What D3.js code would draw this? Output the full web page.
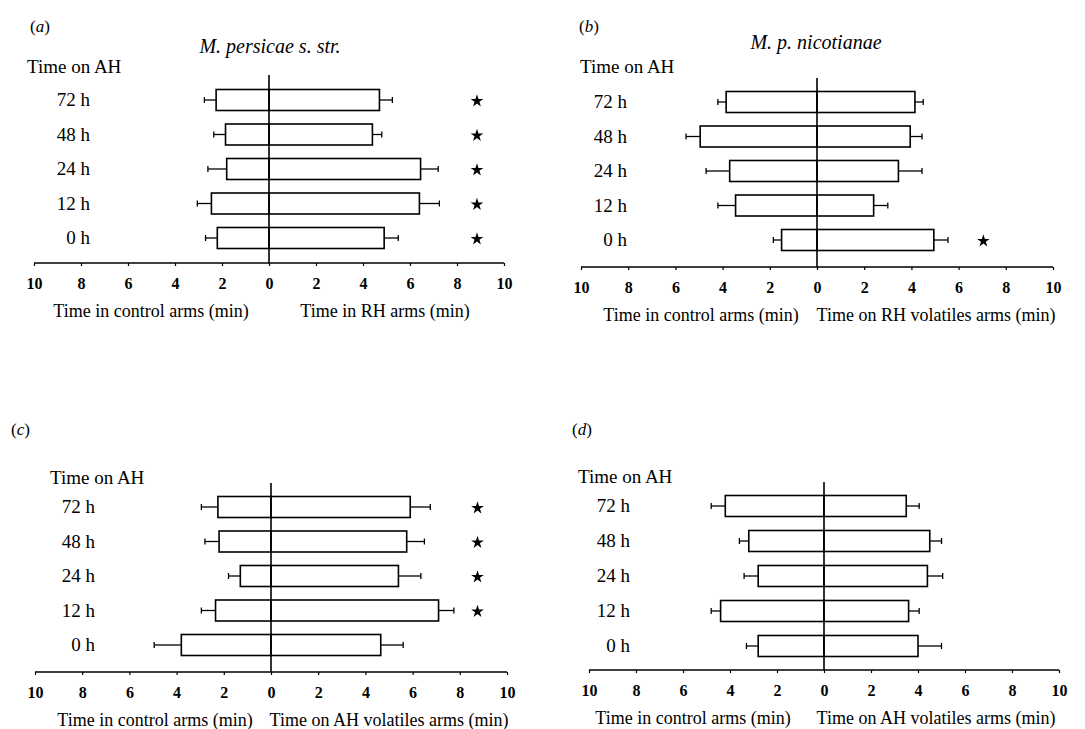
<!DOCTYPE html>
<html>
<head>
<meta charset="utf-8">
<script src="https://cdn.jsdelivr.net/npm/d3@7"></script>
<style>
  body { margin: 0; background: #fff; }
</style>
</head>
<body>
<div id="chart"></div>
<script>
// Define data
var timeLabels = ["72 h", "48 h", "24 h", "12 h", "0 h"];
var tickValues = [-10, -8, -6, -4, -2, 0, 2, 4, 6, 8, 10];

// (a) M. persicae s. str.
var aControl    = [2.25, 1.85, 1.8, 2.45, 2.2];
var aControlErr = [0.5, 0.5, 0.8, 0.6, 0.5];
var aTreat      = [4.7, 4.4, 6.45, 6.4, 4.9];
var aTreatErr   = [0.55, 0.4, 0.75, 0.85, 0.6];
var aSig        = [true, true, true, true, true];

// (b) M. p. nicotianae
var bControl    = [3.85, 4.95, 3.7, 3.45, 1.5];
var bControlErr = [0.35, 0.6, 1.0, 0.75, 0.35];
var bTreat      = [4.15, 3.95, 3.45, 2.4, 4.95];
var bTreatErr   = [0.35, 0.5, 1.0, 0.6, 0.6];
var bSig        = [false, false, false, false, true];

// (c)
var cControl    = [2.25, 2.2, 1.3, 2.35, 3.8];
var cControlErr = [0.7, 0.6, 0.5, 0.6, 1.15];
var cTreat      = [5.9, 5.75, 5.4, 7.1, 4.65];
var cTreatErr   = [0.85, 0.75, 0.95, 0.65, 0.95];
var cSig        = [true, true, true, true, false];

// (d)
var dControl    = [4.2, 3.2, 2.8, 4.4, 2.8];
var dControlErr = [0.6, 0.4, 0.6, 0.4, 0.5];
var dTreat      = [3.5, 4.5, 4.4, 3.6, 4.0];
var dTreatErr   = [0.55, 0.5, 0.65, 0.45, 1.0];
var dSig        = [false, false, false, false, false];

// x position (min) where the significance stars sit
var aStarAt = 8.85, bStarAt = 7.05, cStarAt = 8.75, dStarAt = 8.75;

var serif = "'Liberation Serif', 'Times New Roman', Times, serif";

var svg = d3.select("#chart")
  .append("svg")
  .attr("width", 1085)
  .attr("height", 729)
  .style("font-family", serif);

function drawPanel(p) {
  var g = svg.append("g");

  var x = d3.scaleLinear().domain([-10, 10]).range([p.x0, p.x1]);
  var y = d3.scalePoint().domain(timeLabels).range([p.yTop, p.yBottom]).padding(0.5);
  var barH = 21;

  // axis
  var xAxis = d3.axisBottom(x)
    .tickValues(tickValues)
    .tickSize(3)
    .tickPadding(12)
    .tickFormat(d => Math.abs(d));

  var axisG = g.append("g")
    .attr("transform", `translate(0, ${p.axisY})`)
    .call(xAxis)
    .attr("font-family", null)
    .attr("font-size", null);
  axisG.select(".domain").attr("stroke", "#000").attr("stroke-width", 1.6)
    .attr("d", `M${p.x0},0H${p.x1}`);
  axisG.selectAll(".tick line").attr("stroke", "#000").attr("stroke-width", 1.2);
  axisG.selectAll(".tick text")
    .style("font-family", serif)
    .style("font-weight", "bold")
    .style("font-size", "16px")
    .attr("fill", "#000");

  var rows = timeLabels.map((t, i) => ({
    label: t,
    control: p.control[i], controlErr: p.controlErr[i],
    treat: p.treat[i], treatErr: p.treatErr[i],
    sig: p.sig[i]
  }));

  // error bars (outward only)
  var errG = g.append("g").attr("stroke", "#000").attr("stroke-width", 1.3).attr("fill", "none");
  rows.forEach(function(d) {
    var cy = y(d.label);
    [[-d.control, -d.control - d.controlErr], [d.treat, d.treat + d.treatErr]].forEach(function(e) {
      errG.append("line")
        .attr("x1", x(e[0])).attr("x2", x(e[1]))
        .attr("y1", cy).attr("y2", cy);
      errG.append("line")
        .attr("x1", x(e[1])).attr("x2", x(e[1]))
        .attr("y1", cy - 3).attr("y2", cy + 3);
    });
  });

  // bars
  g.append("g").selectAll("rect")
    .data(rows)
    .enter()
      .append("rect")
      .attr("x", d => x(-d.control))
      .attr("y", d => y(d.label) - barH / 2)
      .attr("width", d => x(0) - x(-d.control))
      .attr("height", barH)
      .attr("fill", "#fff")
      .attr("stroke", "#000")
      .attr("stroke-width", 1.6);

  g.append("g").selectAll("rect")
    .data(rows)
    .enter()
      .append("rect")
      .attr("x", x(0))
      .attr("y", d => y(d.label) - barH / 2)
      .attr("width", d => x(d.treat) - x(0))
      .attr("height", barH)
      .attr("fill", "#fff")
      .attr("stroke", "#000")
      .attr("stroke-width", 1.6);

  // zero line
  g.append("line")
    .attr("x1", x(0)).attr("x2", x(0))
    .attr("y1", p.zeroTop).attr("y2", p.axisY)
    .attr("stroke", "#000")
    .attr("stroke-width", 1.6);

  // stars
  g.append("g").selectAll("path")
    .data(rows.filter(d => d.sig))
    .enter()
      .append("path")
      .attr("d", d3.symbol(d3.symbolStar).size(50))
      .attr("transform", d => `translate(${x(p.starAt)}, ${y(d.label) + 1})`)
      .attr("fill", "#000");

  // row labels
  g.append("g").selectAll("text")
    .data(rows)
    .enter()
      .append("text")
      .attr("x", p.rowLabelX)
      .attr("y", d => y(d.label) + 6)
      .attr("text-anchor", "end")
      .style("font-family", serif)
      .style("font-size", "19px")
      .text(d => d.label);

  // "Time on AH"
  g.append("text")
    .attr("x", p.timeOnX)
    .attr("y", p.timeOnY)
    .style("font-family", serif)
    .style("font-size", "19px")
    .text("Time on AH");

  // panel letter
  var lab = g.append("text")
    .attr("x", p.letterX)
    .attr("y", p.letterY)
    .style("font-family", serif)
    .style("font-size", "17px");
  lab.append("tspan").text("(");
  lab.append("tspan").style("font-style", "italic").text(p.letter);
  lab.append("tspan").text(")");

  // title
  if (p.title) {
    g.append("text")
      .attr("x", p.titleX)
      .attr("y", p.titleY)
      .attr("text-anchor", "middle")
      .style("font-family", serif)
      .style("font-size", "20px")
      .style("font-style", "italic")
      .text(p.title);
  }

  // axis titles
  g.append("text")
    .attr("x", p.leftTitleX)
    .attr("y", p.axisY + 54)
    .attr("text-anchor", "middle")
    .style("font-family", serif)
    .style("font-size", "18px")
    .text("Time in control arms (min)");

  g.append("text")
    .attr("x", p.rightTitleX)
    .attr("y", p.axisY + 54)
    .attr("text-anchor", "middle")
    .style("font-family", serif)
    .style("font-size", "18px")
    .text(p.rightTitle);
}

drawPanel({
  letter: "a", letterX: 30, letterY: 32,
  title: "M. persicae s. str.", titleX: 270, titleY: 53,
  timeOnX: 27, timeOnY: 73, rowLabelX: 90,
  x0: 34, x1: 504, yTop: 82.75, yBottom: 255.25, axisY: 263, zeroTop: 75,
  control: aControl, controlErr: aControlErr, treat: aTreat, treatErr: aTreatErr,
  sig: aSig, starAt: aStarAt,
  leftTitleX: 151, rightTitleX: 385, rightTitle: "Time in RH arms (min)"
});

drawPanel({
  letter: "b", letterX: 579, letterY: 32,
  title: "M. p. nicotianae", titleX: 816, titleY: 49,
  timeOnX: 580, timeOnY: 73, rowLabelX: 627,
  x0: 581, x1: 1053, yTop: 84.75, yBottom: 257.25, axisY: 267, zeroTop: 78,
  control: bControl, controlErr: bControlErr, treat: bTreat, treatErr: bTreatErr,
  sig: bSig, starAt: bStarAt,
  leftTitleX: 701, rightTitleX: 936, rightTitle: "Time on RH volatiles arms (min)"
});

drawPanel({
  letter: "c", letterX: 11, letterY: 435,
  title: null,
  timeOnX: 50, timeOnY: 484, rowLabelX: 95,
  x0: 35, x1: 507, yTop: 489.75, yBottom: 662.25, axisY: 672, zeroTop: 483,
  control: cControl, controlErr: cControlErr, treat: cTreat, treatErr: cTreatErr,
  sig: cSig, starAt: cStarAt,
  leftTitleX: 155, rightTitleX: 389, rightTitle: "Time on AH volatiles arms (min)"
});

drawPanel({
  letter: "d", letterX: 572, letterY: 435,
  title: null,
  timeOnX: 578, timeOnY: 483, rowLabelX: 630,
  x0: 589, x1: 1059, yTop: 488.5, yBottom: 663.5, axisY: 670, zeroTop: 482,
  control: dControl, controlErr: dControlErr, treat: dTreat, treatErr: dTreatErr,
  sig: dSig, starAt: dStarAt,
  leftTitleX: 693, rightTitleX: 936, rightTitle: "Time on AH volatiles arms (min)"
});
</script>
</body>
</html>
